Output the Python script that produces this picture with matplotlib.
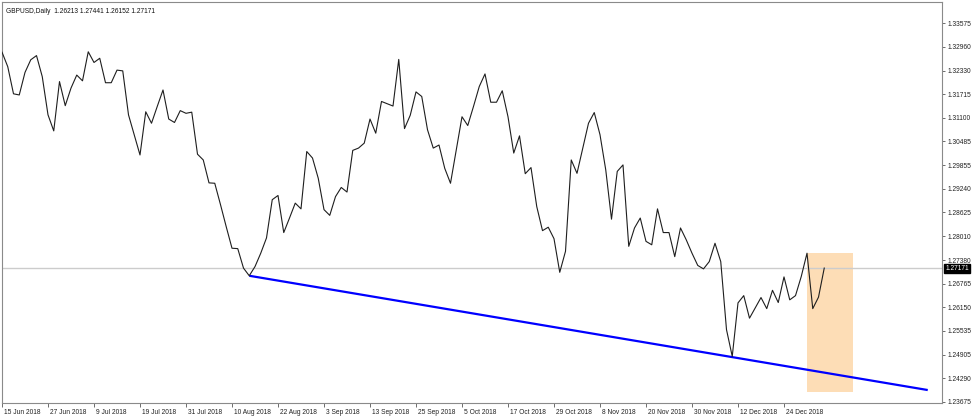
import matplotlib
matplotlib.use('Agg')
import matplotlib.pyplot as plt
import matplotlib.transforms as mtransforms
from matplotlib.patches import Rectangle

# ---- data (daily closes) ----
closes = [
    1.3282, 1.3244, 1.3173, 1.3170, 1.3229, 1.3262, 1.3273, 1.3218, 1.3118, 1.3076,
    1.3205, 1.3142, 1.3188, 1.3222, 1.3207, 1.3283, 1.3255, 1.3266, 1.3202, 1.3202,
    1.3235, 1.3233, 1.3118, 1.3066, 1.3013, 1.3126, 1.3096, 1.3140, 1.3183, 1.3107,
    1.3098, 1.3129, 1.3122, 1.3125, 1.3015, 1.3000, 1.2940, 1.2939, 1.2883, 1.2825,
    1.2769, 1.2768, 1.2717, 1.2697, 1.2721, 1.2756, 1.2796, 1.2896, 1.2907, 1.2810,
    1.2848, 1.2887, 1.2872, 1.3022, 1.3005, 1.2952, 1.2870, 1.2855, 1.2904, 1.2928,
    1.2916, 1.3025, 1.3031, 1.3044, 1.3107, 1.3070, 1.3153, 1.3147, 1.3141, 1.3263,
    1.3082, 1.3117, 1.3178, 1.3166, 1.3079, 1.3031, 1.3039, 1.2978, 1.2939, 1.3026,
    1.3113, 1.3090, 1.3140, 1.3192, 1.3225, 1.3151, 1.3151, 1.3181, 1.3113, 1.3018,
    1.3063, 1.2964, 1.2980, 1.2878, 1.2815, 1.2824, 1.2794, 1.2706, 1.2761, 1.3000,
    1.2965, 1.3031, 1.3096, 1.3124, 1.3066, 1.2974, 1.2845, 1.2970, 1.2987, 1.2774,
    1.2822, 1.2848, 1.2787, 1.2778, 1.2872, 1.2810, 1.2810, 1.2747, 1.2822, 1.2791,
    1.2756, 1.2724, 1.2715, 1.2734, 1.2782, 1.2734, 1.2556, 1.2486, 1.2626, 1.2645,
    1.2586, 1.2613, 1.2640, 1.2611, 1.2659, 1.2627, 1.2694, 1.2634, 1.2645, 1.2695,
    1.2756, 1.2611, 1.2641, 1.27171,
]
date_tick_bars = [0, 8, 16, 24, 32, 40, 48, 56, 64, 72, 80, 88, 96, 104, 112, 120, 128, 136]
date_tick_labels = ['15 Jun 2018', '27 Jun 2018', '9 Jul 2018', '19 Jul 2018', '31 Jul 2018',
                    '10 Aug 2018', '22 Aug 2018', '3 Sep 2018', '13 Sep 2018', '25 Sep 2018',
                    '5 Oct 2018', '17 Oct 2018', '29 Oct 2018', '8 Nov 2018', '20 Nov 2018',
                    '30 Nov 2018', '12 Dec 2018', '24 Dec 2018']
price_ticks = [1.33575, 1.32960, 1.32330, 1.31715, 1.31100, 1.30485, 1.29855, 1.29240,
               1.28625, 1.28010, 1.27380, 1.26765, 1.26150, 1.25535, 1.24905, 1.24290, 1.23675]
price_tick_labels = ['1.33575', '1.32960', '1.32330', '1.31715', '1.31100', '1.30485',
                     '1.29855', '1.29240', '1.28625', '1.28010', '1.27380', '1.26765',
                     '1.26150', '1.25535', '1.24905', '1.24290', '1.23675']
last_price = 1.27171
last_price_label = '1.27171'
title_text = 'GBPUSD,Daily  1.26213 1.27441 1.26152 1.27171'
trend_bars = [43, 161]
trend_prices = [1.2697, 1.2398]
box_bars = [140, 148]
box_prices = [1.2393, 1.2756]

# ---- figure ----
plt.rcParams['font.family'] = ['Liberation Sans', 'DejaVu Sans']
FS = 4.8
W, H = 975, 420
fig = plt.figure(figsize=(W / 100, H / 100), dpi=100)
ax = fig.add_axes([2 / W, 1 - 403 / H, 940 / W, 401 / H])

ax.set_xlim(0, 940 / 5.75)
ax.set_ylim(1.23641, 1.34132)

# rectangle (background)
ax.add_patch(Rectangle((box_bars[0], box_prices[0]), box_bars[1] - box_bars[0],
                       box_prices[1] - box_prices[0], facecolor='#FDDDB6',
                       edgecolor='none', zorder=1))
# current price line
ax.axhline(last_price, color='#CCCCCC', lw=1.0, zorder=2)
# trendline
ax.plot(trend_bars, trend_prices, color='#0000FF', lw=1.6, zorder=3,
        solid_capstyle='butt')
# price line
ax.plot(range(len(closes)), closes, color='#1E1E1E', lw=0.8, zorder=4)

# axes style
for s in ax.spines.values():
    s.set_color('#8A8A8A')
    s.set_linewidth(0.8)
ax.yaxis.tick_right()
ax.set_yticks(price_ticks)
ax.set_yticklabels(price_tick_labels, fontsize=FS, color='#222222')
ax.tick_params(axis='y', direction='out', length=2.5, width=0.6, color='#555555', pad=1.5)
ax.set_xticks(date_tick_bars)
ax.set_xticklabels(date_tick_labels, fontsize=FS, color='#222222', ha='left')
ax.tick_params(axis='x', direction='out', length=3, width=0.6, color='#555555', pad=1.0)
offset = mtransforms.ScaledTranslation(1.5 / 100, 0, fig.dpi_scale_trans)
for lab in ax.get_xticklabels():
    lab.set_transform(lab.get_transform() + offset)

# title
ax.text(0.004, 0.985, title_text, transform=ax.transAxes, fontsize=FS,
        color='#111111', ha='left', va='top')

# last price box on the right scale
trans = mtransforms.blended_transform_factory(ax.transAxes, ax.transData)
ax.text(1.0035, last_price, last_price_label, transform=trans, fontsize=FS,
        color='white', ha='left', va='center', zorder=10, clip_on=False,
        bbox=dict(boxstyle='square,pad=0.15', facecolor='black', edgecolor='black'))

fig.savefig('out.png', dpi=100, facecolor='white')
